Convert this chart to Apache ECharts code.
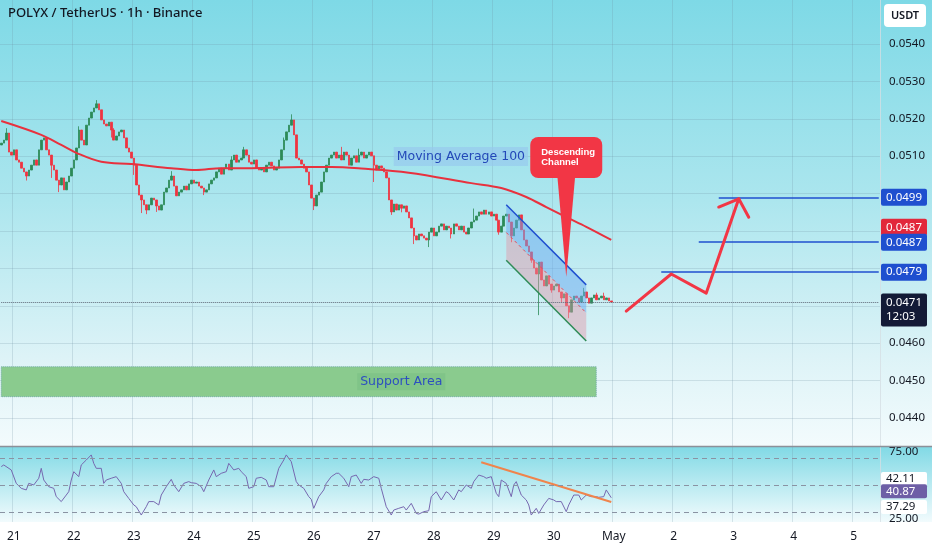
<!DOCTYPE html>
<html><head><meta charset="utf-8">
<script src="https://cdn.jsdelivr.net/npm/echarts@6/dist/echarts.min.js"></script>
<style>html,body{margin:0;padding:0;background:#fff}#c{width:932px;height:550px}</style>
</head><body><div id="c"></div>
<script>
// ---------- data ----------
const dayLabels = ['21','22','23','24','25','26','27','28','29','30','May','2','3','4','5'];
const firstDayIndex = 5, hoursPerDay = 24, slotCount = 352;
const priceTicks = [0.0440,0.0450,0.0460,0.0470,0.0480,0.0490,0.0500,0.0510,0.0520,0.0530,0.0540];
const firstOpen = 0.05130;
const closes = [
0.05135,0.05143,0.05162,0.05111,0.05103,0.05117,0.05090,0.05084,0.05068,0.05058,
0.05047,0.05063,0.05076,0.05090,0.05076,0.05117,0.05143,0.05149,0.05117,0.05103,
0.05076,0.05063,0.05036,0.05023,0.05042,0.05010,0.05031,0.05047,0.05068,0.05090,
0.05122,0.05170,0.05143,0.05130,0.05183,0.05202,0.05218,0.05229,0.05240,0.05224,
0.05197,0.05186,0.05181,0.05191,0.05170,0.05143,0.05154,0.05165,0.05170,0.05149,
0.05122,0.05111,0.05095,0.05076,0.05023,0.04996,0.04983,0.04970,0.04956,0.04970,
0.04988,0.04983,0.04967,0.04956,0.04970,0.05004,0.05015,0.05036,0.05047,0.05020,
0.04994,0.05004,0.05010,0.05020,0.05010,0.05026,0.05036,0.05028,0.05031,0.05020,
0.05015,0.05004,0.05010,0.05026,0.05036,0.05042,0.05058,0.05068,0.05052,0.05068,
0.05079,0.05063,0.05090,0.05103,0.05084,0.05090,0.05095,0.05117,0.05103,0.05084,
0.05079,0.05090,0.05068,0.05063,0.05068,0.05058,0.05076,0.05084,0.05074,0.05063,
0.05068,0.05090,0.05117,0.05143,0.05165,0.05183,0.05197,0.05157,0.05095,0.05090,
0.05079,0.05068,0.05058,0.05023,0.04988,0.04967,0.04996,0.05004,0.05031,0.05058,
0.05076,0.05095,0.05103,0.05111,0.05095,0.05103,0.05090,0.05111,0.05103,0.05076,
0.05095,0.05101,0.05084,0.05103,0.05111,0.05095,0.05103,0.05111,0.05101,0.05076,
0.05063,0.05074,0.05068,0.05058,0.05042,0.04983,0.04951,0.04972,0.04956,0.04970,
0.04961,0.04967,0.04951,0.04935,0.04908,0.04887,0.04876,0.04892,0.04887,0.04881,
0.04876,0.04897,0.04908,0.04887,0.04897,0.04913,0.04919,0.04903,0.04913,0.04908,
0.04892,0.04919,0.04913,0.04903,0.04913,0.04897,0.04892,0.04908,0.04924,0.04929,
0.04940,0.04951,0.04945,0.04956,0.04945,0.04951,0.04940,0.04945,0.04929,0.04897,
0.04913,0.04940,0.04945,0.04924,0.04887,0.04908,0.04929,0.04943,0.04903,0.04876,
0.04860,0.04844,0.04822,0.04801,0.04785,0.04817,0.04769,0.04753,0.04780,0.04758,
0.04742,0.04753,0.04758,0.04737,0.04721,0.04732,0.04700,0.04683,0.04716,0.04726,
0.04721,0.04710,0.04726,0.04737,0.04721,0.04707,0.04721,0.04729,0.04716,0.04721,
0.04726,0.04716,0.04721,0.04713,0.04710
];
// [hour index, low, high] for candles with visible wicks
const wicks = [
[2,null,0.05175],[10,0.05035,null],[20,0.05042,null],[23,0.05004,null],[31,null,0.05180],
[38,null,0.05250],[44,0.05150,null],[45,null,0.05175],[53,0.05050,null],[56,0.04948,null],
[58,0.04945,null],[62,0.04951,null],[68,null,0.05060],[81,0.04996,null],[92,null,0.05100],
[97,null,0.05125],[113,null,0.05150],[116,null,0.05212],[125,0.04956,null],[136,null,0.05125],
[143,null,0.05120],[149,0.05031,null],[156,0.04943,null],[160,0.04950,null],[165,0.04865,null],
[171,0.04857,null],[180,0.04880,null],[189,null,0.04960],[199,0.04890,null],[204,0.04870,null],
[212,0.04815,null],[215,0.04675,null],[220,0.04735,null],[224,0.04710,null],[227,0.04667,null],
[233,null,0.04748],[238,null,0.04735],[241,null,0.04735]
];
const ma100 = [[0,0.05194],[16,0.05157],[24,0.05130],[30,0.05109],[40,0.05085],[52,0.05079],
[68,0.05068],[78,0.05063],[88,0.05068],[100,0.05068],[120,0.05071],[132,0.05071],[144,0.05067],
[163,0.05056],[188,0.05028],[200,0.05015],[210,0.04991],[218,0.04964],[226,0.04937],[234,0.04911],[244,0.04876]];
const maLast = 0.0487;
const lastPrice = 0.0471, countdown = '12:03';
const targetValues = [0.0499, 0.0487, 0.0479];
const targetStarts = [287, 279, 264];
const supportLow = 0.04457, supportHigh = 0.04537, supportEnd = 238;
const channelX = [202, 234], channelUpper = [0.04970, 0.04756], channelLower = [0.04822, 0.04606];
const projection = [[250,0.04686],[268,0.04785],[282,0.04734],[295,0.04986]];
const arrowHead = [[287,0.04964],[295,0.04986],[299,0.04937]];
const calloutTip = [226, 0.04777];
const maLabelAt = [157, 0.05099];
const supportLabelAt = [160, 0.04497];
const rsi = [[0,64.1],[1,65.3],[4,61.6],[6,51.6],[8,47.9],[10,46.7],[11,51.6],[13,50.4],[15,55.4],[16,62.8],
[17,54.1],[19,49.1],[21,47.9],[22,41.7],[24,38.0],[26,42.9],[27,45.4],[28,54.1],[29,60.3],[31,56.6],
[32,65.3],[34,69.0],[36,72.8],[37,66.5],[38,62.8],[40,62.8],[41,51.6],[42,54.1],[44,55.4],[46,56.6],
[48,51.6],[49,45.4],[51,40.4],[53,35.5],[54,34.2],[56,28.0],[58,34.2],[59,38.0],[61,38.0],[63,35.5],
[64,42.9],[66,49.1],[68,54.6],[69,50.4],[71,45.4],[73,51.6],[75,52.9],[76,52.1],[78,51.6],[80,49.1],
[81,45.4],[83,54.1],[85,61.6],[86,56.6],[88,59.1],[90,60.3],[91,66.5],[93,61.6],[95,62.8],[96,60.3],
[98,56.6],[99,47.9],[101,49.1],[102,55.4],[104,56.1],[106,54.1],[107,49.1],[109,49.1],[111,62.8],[113,69.0],
[114,72.8],[116,67.8],[118,52.9],[119,50.4],[121,47.9],[123,41.7],[124,39.7],[125,33.0],[127,41.7],[129,46.7],
[130,51.6],[132,56.6],[134,59.1],[135,59.1],[137,55.4],[139,49.1],[140,56.6],[142,57.8],[144,51.6],[145,54.6],
[147,54.1],[149,56.6],[151,55.4],[152,47.9],[154,34.2],[156,28.0],[157,31.7],[159,33.0],[161,34.2],[162,31.7],
[164,36.7],[166,29.2],[167,28.7],[169,30.5],[171,31.2],[172,41.7],[174,45.4],[176,39.2],[178,45.4],[179,44.2],
[181,39.2],[183,46.7],[184,45.4],[186,50.4],[188,47.9],[189,52.9],[191,57.8],[193,56.6],[194,55.4],[196,56.6],
[198,44.2],[199,41.7],[200,54.1],[202,51.6],[204,41.7],[205,50.4],[206,52.9],[208,42.9],[210,39.2],[211,35.5],
[212,28.0],[214,33.0],[215,29.2],[217,35.5],[219,40.4],[221,39.2],[222,38.0],[224,38.0],[226,30.5],[227,35.5],
[229,42.9],[231,42.9],[232,39.2],[234,42.9],[236,41.7],[238,41.7],[239,41.2],[241,41.7],[242,46.7],[244,40.87]];
const rsiTrend = [[192,67.3],[244,37.7]];
const rsiLevels = [70, 50, 30];
const rsiTicks = [25, 75];
const rsiTags = [42.11, 40.87, 37.29];

// ---------- build ----------
const categories = Array.from({length: slotCount}, (_, i) => String(i));
const wickMap = {}; wicks.forEach(w => { wickMap[w[0]] = w; });
const candles = closes.map((c, i) => {
  const o = i === 0 ? firstOpen : closes[i - 1];
  let lo = Math.min(o, c), hi = Math.max(o, c);
  const w = wickMap[i];
  if (w) { if (w[1] != null) lo = Math.min(lo, w[1]); if (w[2] != null) hi = Math.max(hi, w[2]); }
  return [o, c, lo, hi];
});
const isDay = idx => idx >= firstDayIndex && (idx - firstDayIndex) % hoursPerDay === 0;

const FONT = '"Noto Sans", "DejaVu Sans", sans-serif';
const BLUE = '#1f4fcf', RED = '#f23645';

const priceTagStyles = [
  {bg: BLUE, fg: '#fff', dy: 0, h: 17},
  {bg: '#e2283b', fg: '#fff', dy: -15, h: 17},
  {bg: BLUE, fg: '#fff', dy: 0, h: 17},
  {bg: BLUE, fg: '#fff', dy: 0, h: 17},
  {bg: '#131a36', fg: '#fff', dy: 8, h: 33}
];
const priceTagValues = [targetValues[0], maLast, targetValues[1], targetValues[2], lastPrice];
const priceTagTexts = [targetValues[0].toFixed(4), maLast.toFixed(4), targetValues[1].toFixed(4),
  targetValues[2].toFixed(4), lastPrice.toFixed(4) + '\n' + countdown];
const rsiTagStyles = [
  {bg: '#ffffff', fg: '#131722', dy: -17, h: 14},
  {bg: '#6e5fa6', fg: '#ffffff', dy: -6.5, h: 14},
  {bg: '#ffffff', fg: '#131722', dy: 4.5, h: 14}
];

function tagRenderer(styles, texts) {
  return function (params, api) {
    const st = styles[params.dataIndex];
    const y = api.coord([0, api.value(1)])[1] + st.dy;
    const x = params.coordSys.x + params.coordSys.width + 1;
    const h = st.h || 15;
    return {type: 'group', children: [
      {type: 'rect', shape: {x: x, y: y - h / 2, width: 46, height: h, r: 2}, style: {fill: st.bg}},
      {type: 'text', style: {text: texts[params.dataIndex], x: x + 5, y: y, align: 'left', verticalAlign: 'middle',
        fill: st.fg, font: '11.5px ' + FONT, lineHeight: 14}}
    ]};
  };
}

const chart = echarts.init(document.getElementById('c'), null, {renderer: 'canvas'});
const option = {
  animation: false,
  backgroundColor: '#ffffff',
  title: {text: 'POLYX / TetherUS · 1h · Binance', left: 8, top: 7, padding: 0,
    textStyle: {fontSize: 13, fontWeight: 500, color: '#131722', fontFamily: FONT}},
  graphic: [
    {type: 'rect', z: -10, silent: true, shape: {x: 0, y: 0, width: 932, height: 446},
      style: {fill: new echarts.graphic.LinearGradient(0, 0, 0, 1, [
        {offset: 0, color: '#7ed9e6'}, {offset: 0.45, color: '#acE6ee'}, {offset: 0.8, color: '#ddf3f7'}, {offset: 1, color: '#f3fbfd'}])}},
    {type: 'rect', z: -10, silent: true, shape: {x: 0, y: 446, width: 932, height: 76},
      style: {fill: new echarts.graphic.LinearGradient(0, 0, 0, 1, [
        {offset: 0, color: '#80d9e5'}, {offset: 1, color: '#f2fbfd'}])}},
    {type: 'line', z: 5, silent: true, shape: {x1: 0, y1: 446.5, x2: 932, y2: 446.5}, style: {stroke: '#8c9099', lineWidth: 1.5}},
    {type: 'line', z: -5, silent: true, shape: {x1: 880.5, y1: 0, x2: 880.5, y2: 522}, style: {stroke: 'rgba(255,255,255,0.7)', lineWidth: 1}},
    {type: 'rect', z: 5, silent: true, shape: {x: 884, y: 4, width: 42, height: 23, r: 4}, style: {fill: '#ffffff'}},
    {type: 'text', z: 6, silent: true, style: {text: 'USDT', x: 905, y: 16, align: 'center', verticalAlign: 'middle',
      font: '600 11px ' + FONT, fill: '#131722'}}
  ],
  grid: [
    {left: 0, right: 52, top: 0, height: 446},
    {left: 0, right: 52, top: 447, height: 75}
  ],
  xAxis: [
    {type: 'category', gridIndex: 0, data: categories, boundaryGap: true,
      axisLine: {show: false}, axisTick: {show: false}, axisLabel: {show: false},
      splitLine: {show: true, interval: isDay, lineStyle: {color: 'rgba(110,140,160,0.22)', width: 1}}},
    {type: 'category', gridIndex: 1, data: categories, boundaryGap: true,
      axisLine: {show: false}, axisTick: {show: false},
      axisLabel: {show: true, interval: isDay, margin: 9, color: '#131722', fontSize: 12, fontFamily: FONT,
        formatter: (v, idx) => { const k = (idx - firstDayIndex) / hoursPerDay; return dayLabels[k] || ''; }},
      splitLine: {show: true, interval: isDay, lineStyle: {color: 'rgba(110,140,160,0.22)', width: 1}}}
  ],
  yAxis: [
    {type: 'value', gridIndex: 0, position: 'right', min: 0.0432514, max: 0.0551765, scale: true,
      axisLine: {show: false}, axisTick: {show: false, customValues: priceTicks},
      axisLabel: {customValues: priceTicks, formatter: v => v.toFixed(4), margin: 9, color: '#131722', fontSize: 11.5, fontFamily: FONT},
      splitLine: {show: true, lineStyle: {color: 'rgba(110,140,160,0.22)', width: 1}}},
    {type: 'value', gridIndex: 1, position: 'right', min: 22.8, max: 78.7,
      axisLine: {show: false}, axisTick: {show: false, customValues: rsiTicks},
      axisLabel: {customValues: rsiTicks, formatter: v => v.toFixed(2), margin: 9, color: '#131722', fontSize: 11.5, fontFamily: FONT},
      splitLine: {show: false}}
  ],
  series: [
    {type: 'candlestick', name: 'POLYXUSDT', xAxisIndex: 0, yAxisIndex: 0, data: candles, barWidth: 2,
      itemStyle: {color: '#2c8a57', color0: '#ef3340', borderColor: '#2c8a57', borderColor0: '#ef3340', borderWidth: 0.8},
      markArea: {silent: true, itemStyle: {color: '#8acb8e', borderColor: '#6fa9a4', borderWidth: 1, borderType: 'dotted'},
        label: {show: false},
        data: [[{coord: [0, supportHigh]}, {coord: [supportEnd, supportLow]}]]},
      markLine: {silent: true, symbol: ['none', 'none'], label: {show: false},
        data: targetValues.map((v, k) => [
          {coord: [targetStarts[k], v], lineStyle: {color: BLUE, width: 1.6, type: 'solid'}},
          {coord: [slotCount - 1, v]}
        ]).concat([[
          {coord: [0, lastPrice], lineStyle: {color: '#5d6676', width: 1, type: 'dotted'}},
          {coord: [slotCount - 1, lastPrice]}
        ]])}
    },
    {type: 'line', name: 'MA 100', xAxisIndex: 0, yAxisIndex: 0, data: ma100, smooth: 0.35, symbol: 'none',
      lineStyle: {color: '#e8313e', width: 2}},
    {type: 'custom', name: 'channel', xAxisIndex: 0, yAxisIndex: 0, z: 3,
      data: [[channelX[0], channelUpper[0], channelX[1], channelUpper[1], channelLower[0], channelLower[1]]],
      encode: {x: [0, 2], y: [1, 3, 4, 5]},
      renderItem: function (params, api) {
        const u0 = api.coord([api.value(0), api.value(1)]), u1 = api.coord([api.value(2), api.value(3)]);
        const l0 = api.coord([api.value(0), api.value(4)]), l1 = api.coord([api.value(2), api.value(5)]);
        const m0 = [(u0[0] + l0[0]) / 2, (u0[1] + l0[1]) / 2], m1 = [(u1[0] + l1[0]) / 2, (u1[1] + l1[1]) / 2];
        return {type: 'group', children: [
          {type: 'polygon', shape: {points: [u0, u1, m1, m0]}, style: {fill: 'rgba(105,170,240,0.5)'}},
          {type: 'polygon', shape: {points: [m0, m1, l1, l0]}, style: {fill: 'rgba(225,150,168,0.45)'}},
          {type: 'line', shape: {x1: u0[0], y1: u0[1], x2: u1[0], y2: u1[1]}, style: {stroke: BLUE, lineWidth: 1.5}},
          {type: 'line', shape: {x1: m0[0], y1: m0[1], x2: m1[0], y2: m1[1]}, style: {stroke: '#e0505f', lineWidth: 1, lineDash: [3, 3]}},
          {type: 'line', shape: {x1: l0[0], y1: l0[1], x2: l1[0], y2: l1[1]}, style: {stroke: '#2e8b57', lineWidth: 1.5}}
        ]};
      }},
    {type: 'custom', name: 'annotations', xAxisIndex: 0, yAxisIndex: 0, z: 4,
      data: [[calloutTip[0], calloutTip[1]]], encode: {x: 0, y: 1},
      renderItem: function (params, api) {
        const t = api.coord([api.value(0), api.value(1)]);
        const ma = api.coord(maLabelAt), sp = api.coord(supportLabelAt);
        return {type: 'group', children: [
          {type: 'text', style: {text: 'Support Area', x: sp[0], y: sp[1], align: 'center', verticalAlign: 'middle',
            font: '12.5px "DejaVu Sans", sans-serif', fill: '#2c4fc0', backgroundColor: 'rgba(120,192,132,0.55)', padding: [2, 3]}},
          {type: 'text', style: {text: 'Moving Average 100', x: ma[0], y: ma[1], align: 'left', verticalAlign: 'middle',
            font: '12.5px "DejaVu Sans", sans-serif', fill: '#2348b8', backgroundColor: 'rgba(150,200,238,0.65)', padding: [3, 3]}},
          {type: 'polygon', shape: {points: [[t[0] - 9, t[1] - 102], [t[0] + 9, t[1] - 102], t]}, style: {fill: RED}},
          {type: 'rect', shape: {x: t[0] - 36, y: t[1] - 140, width: 72, height: 41, r: 8}, style: {fill: RED}},
          {type: 'text', style: {text: 'Descending\nChannel', x: t[0] - 25, y: t[1] - 120, align: 'left', verticalAlign: 'middle',
            font: 'bold 9.5px "Liberation Sans", sans-serif', fill: '#ffffff', lineHeight: 10}}
        ]};
      }},
    {type: 'line', name: 'projection', xAxisIndex: 0, yAxisIndex: 0, data: projection, symbol: 'none', z: 5,
      lineStyle: {color: RED, width: 3, cap: 'round', join: 'round'}},
    {type: 'line', name: 'arrow', xAxisIndex: 0, yAxisIndex: 0, data: arrowHead, symbol: 'none', z: 5,
      lineStyle: {color: RED, width: 3, cap: 'round', join: 'round'}},
    {type: 'custom', name: 'priceTags', xAxisIndex: 0, yAxisIndex: 0, z: 10,
      data: priceTagValues.map(v => [0, v]), encode: {x: 0, y: 1},
      renderItem: tagRenderer(priceTagStyles, priceTagTexts)},
    {type: 'line', name: 'RSI', xAxisIndex: 1, yAxisIndex: 1, data: rsi, symbol: 'none',
      lineStyle: {color: '#7668b0', width: 1},
      markLine: {silent: true, symbol: ['none', 'none'], label: {show: false},
        lineStyle: {color: '#8a93a3', width: 1, type: [5, 4]},
        data: rsiLevels.map(v => ({yAxis: v}))}},
    {type: 'line', name: 'RSI trend', xAxisIndex: 1, yAxisIndex: 1, data: rsiTrend, symbol: 'none',
      lineStyle: {color: '#f0844c', width: 2}},
    {type: 'custom', name: 'rsiTags', xAxisIndex: 1, yAxisIndex: 1, z: 10,
      data: rsiTags.map(v => [0, v]), encode: {x: 0, y: 1},
      renderItem: tagRenderer(rsiTagStyles, rsiTags.map(v => v.toFixed(2)))}
  ]
};
chart.setOption(option);
</script></body></html>
